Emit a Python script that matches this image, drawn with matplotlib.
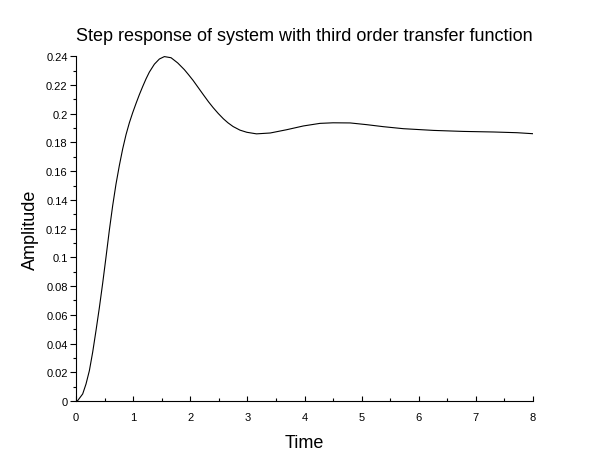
import matplotlib
matplotlib.use("Agg")
import matplotlib.pyplot as plt
from matplotlib.ticker import MultipleLocator

plt.rcParams['font.family'] = ['Liberation Sans', 'DejaVu Sans']

# Data
time = [0.0, 0.03, 0.117, 0.175, 0.234, 0.292, 0.350, 0.409, 0.467, 0.525, 0.584,
        0.642, 0.700, 0.759, 0.817, 0.876, 0.934, 0.992, 1.051, 1.109, 1.168,
        1.226, 1.284, 1.372, 1.459, 1.547, 1.664, 1.780, 1.897, 1.97, 2.05, 2.14,
        2.23, 2.32, 2.40, 2.49, 2.58, 2.66, 2.75, 2.87, 2.99, 3.16, 3.40, 3.69,
        3.98, 4.27, 4.50, 4.80, 5.09, 5.38, 5.73, 6.26, 6.78, 7.31, 7.72, 8.00]
amplitude = [0.0, 0.0003, 0.0049, 0.0118, 0.0211, 0.0340, 0.0490, 0.0650, 0.0820,
             0.1001, 0.1190, 0.1360, 0.1510, 0.1640, 0.1755, 0.1855, 0.1937, 0.2007,
             0.2072, 0.2133, 0.2190, 0.2243, 0.2290, 0.2345, 0.2381, 0.2398, 0.2390,
             0.2354, 0.2307, 0.2272, 0.2232, 0.2182, 0.2132, 0.2083, 0.2043, 0.2002,
             0.1965, 0.1937, 0.1911, 0.1886, 0.1871, 0.1860, 0.1866, 0.1889, 0.1915,
             0.1933, 0.1937, 0.1936, 0.1924, 0.1910, 0.1896, 0.1884, 0.1877, 0.1873,
             0.1868, 0.1861]

title = "Step response of system with third order transfer function"
xlabel = "Time"
ylabel = "Amplitude"

fig = plt.figure(figsize=(6.1, 4.6), dpi=100)
ax = fig.add_axes([76/610, 1-402/460, (533-76)/610, (402-57.3)/460])

ax.plot(time, amplitude, color='black', linewidth=0.8, solid_joinstyle='round')

ax.set_xlim(0, 8)
ax.set_ylim(0, 0.24)

ax.spines['top'].set_visible(False)
ax.spines['right'].set_visible(False)
for s in ('left', 'bottom'):
    ax.spines[s].set_linewidth(0.8)
    ax.spines[s].set_color('black')

ax.xaxis.set_major_locator(MultipleLocator(1))
ax.xaxis.set_minor_locator(MultipleLocator(0.5))
ax.yaxis.set_major_locator(MultipleLocator(0.02))
ax.yaxis.set_minor_locator(MultipleLocator(0.01))

def yfmt(v, pos):
    s = f"{v:.2f}".rstrip('0').rstrip('.')
    return s if s else "0"
ax.yaxis.set_major_formatter(plt.FuncFormatter(yfmt))

ax.tick_params(axis='x', which='major', direction='in', length=3.5, width=0.8,
               labelsize=8, pad=8)
ax.tick_params(axis='x', which='minor', direction='in', length=2, width=0.8)
ax.tick_params(axis='y', which='major', direction='out', length=4, width=0.8,
               labelsize=8, pad=2)
ax.tick_params(axis='y', which='minor', direction='out', length=2.5, width=0.8)

ax.set_title(title, fontsize=13, pad=11.5)
ax.set_xlabel(xlabel, fontsize=13, labelpad=8.5)
ax.set_ylabel(ylabel, fontsize=13, labelpad=5)

fig.savefig("out.png", dpi=100)
